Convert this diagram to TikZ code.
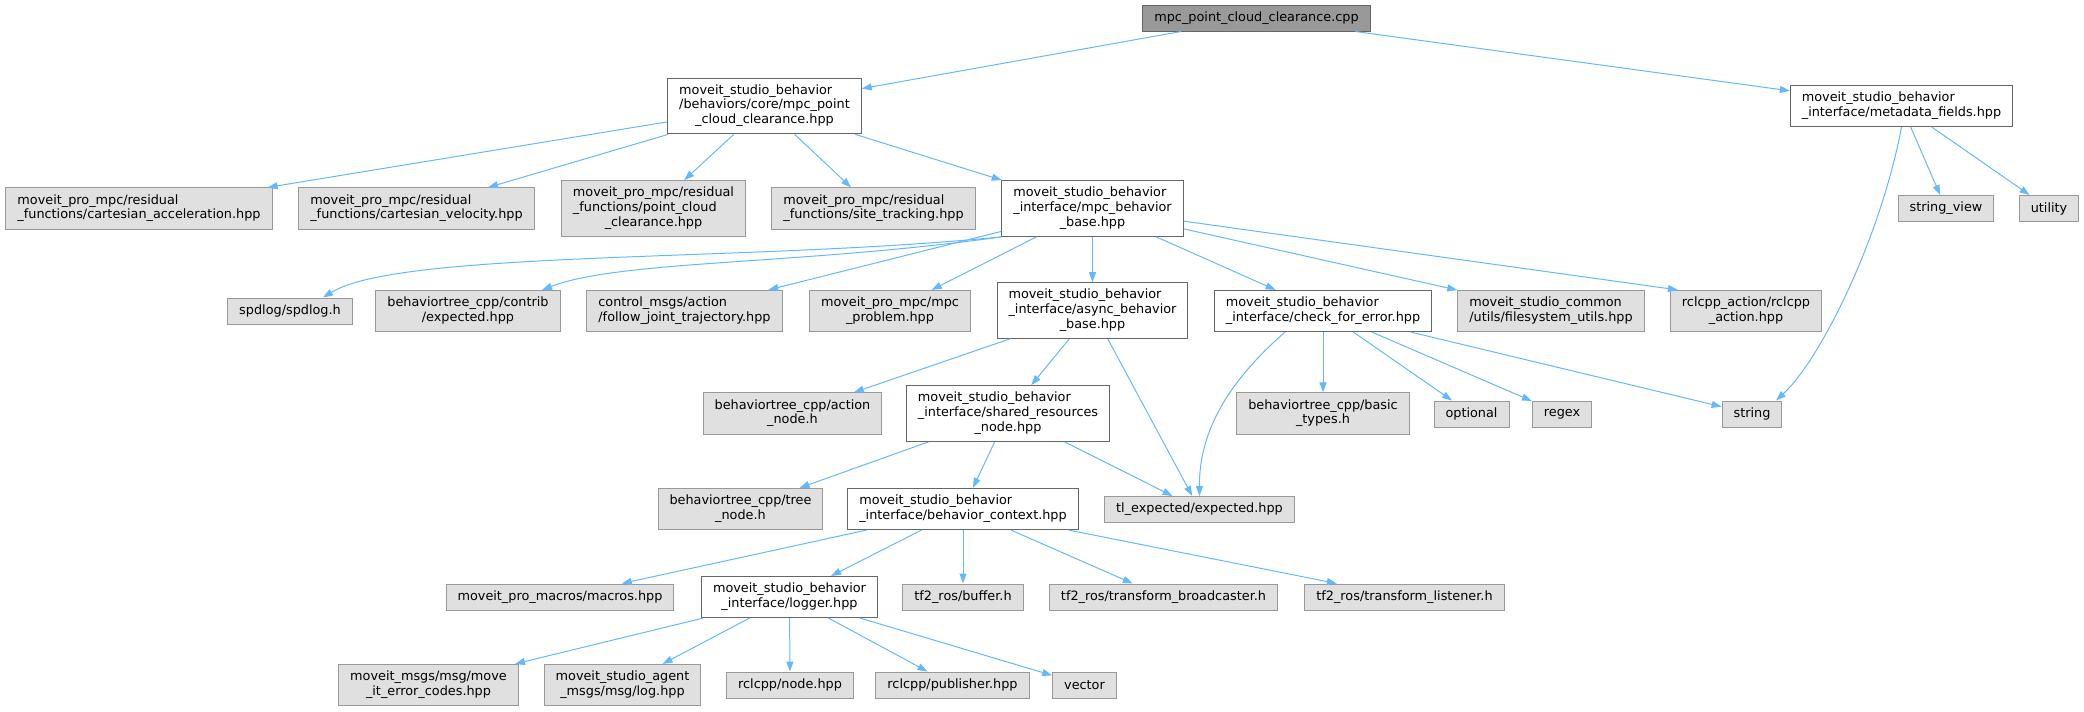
\documentclass[tikz,border=0pt]{standalone}
\usepackage{fontspec}
\setmainfont{DejaVu Sans}
\usepackage{tikz}
\usetikzlibrary{arrows.meta,calc}

\definecolor{edgeblue}{HTML}{63B8FF}
\definecolor{boxgray}{HTML}{E0E0E0}
\definecolor{rimgray}{HTML}{999999}
\definecolor{darkrim}{HTML}{666666}

% first lines left, last line centred
\newcommand{\flines}[2]{\begin{tabular}{@{}l@{}}#1\\\multicolumn{1}{@{}c@{}}{#2}\end{tabular}}

\tikzset{
  incbox/.style={draw=darkrim, fill=white, rectangle, line width=0.02cm,
    inner xsep=0.23cm, inner ysep=0.12cm, minimum height=0.52cm,
    font=\fontsize{7.3}{8.3}\selectfont},
  sysbox/.style={incbox, draw=rimgray, fill=boxgray},
  rootbox/.style={incbox, fill=rimgray},
  dep/.style={draw=edgeblue, line width=0.02cm, -{Triangle[length=0.2cm,width=0.14cm]}}
}

\begin{document}
\begin{tikzpicture}[x=0.02cm, y=-0.02cm]
  \useasboundingbox (0,0) rectangle (2084,711);

  % top file and its two headers
  \node[rootbox] (root) at (1256.5,18) {mpc\_point\_cloud\_clearance.cpp};
  \node[incbox] (hdr) at (764.5,106) {\flines{moveit\_studio\_behavior\\/behaviors/core/mpc\_point}{\_cloud\_clearance.hpp}};
  \node[incbox] (meta) at (1901.5,106) {\flines{moveit\_studio\_behavior}{\_interface/metadata\_fields.hpp}};

  % second row
  \node[sysbox] (cacc) at (139,208.5) {\flines{moveit\_pro\_mpc/residual}{\_functions/cartesian\_acceleration.hpp}};
  \node[sysbox] (cvel) at (416.5,208.5) {\flines{moveit\_pro\_mpc/residual}{\_functions/cartesian\_velocity.hpp}};
  \node[sysbox] (pcc) at (653.5,208.5) {\flines{moveit\_pro\_mpc/residual\\\_functions/point\_cloud}{\_clearance.hpp}};
  \node[sysbox] (site) at (873.5,208.5) {\flines{moveit\_pro\_mpc/residual}{\_functions/site\_tracking.hpp}};
  \node[incbox] (mpcbase) at (1092.5,208.5) {\flines{moveit\_studio\_behavior\\\_interface/mpc\_behavior}{\_base.hpp}};
  \node[sysbox] (strview) at (1946,208.5) {string\_view};
  \node[sysbox] (utility) at (2049,208.5) {utility};

  % third row
  \node[sysbox] (spdlog) at (290,311) {spdlog/spdlog.h};
  \node[sysbox] (contrib) at (468,311) {\flines{behaviortree\_cpp/contrib}{/expected.hpp}};
  \node[sysbox] (ctrl) at (684.5,311) {\flines{control\_msgs/action}{/follow\_joint\_trajectory.hpp}};
  \node[sysbox] (problem) at (890,311) {\flines{moveit\_pro\_mpc/mpc}{\_problem.hpp}};
  \node[incbox] (async) at (1092.5,310.5) {\flines{moveit\_studio\_behavior\\\_interface/async\_behavior}{\_base.hpp}};
  \node[incbox] (check) at (1323,311) {\flines{moveit\_studio\_behavior}{\_interface/check\_for\_error.hpp}};
  \node[sysbox] (fsutils) at (1551,311) {\flines{moveit\_studio\_common}{/utils/filesystem\_utils.hpp}};
  \node[sysbox] (rclact) at (1746,311) {\flines{rclcpp\_action/rclcpp}{\_action.hpp}};

  % fourth row
  \node[sysbox] (actnode) at (792.5,413.5) {\flines{behaviortree\_cpp/action}{\_node.h}};
  \node[incbox] (shared) at (1008,413.5) {\flines{moveit\_studio\_behavior\\\_interface/shared\_resources}{\_node.hpp}};
  \node[sysbox] (basic) at (1323,413.5) {\flines{behaviortree\_cpp/basic}{\_types.h}};
  \node[sysbox] (optional) at (1471.5,414) {optional};
  \node[sysbox] (regex) at (1562,414) {regex};
  \node[sysbox] (string) at (1752,414) {string};

  % fifth row
  \node[sysbox] (treenode) at (740.5,509) {\flines{behaviortree\_cpp/tree}{\_node.h}};
  \node[incbox] (context) at (963,509) {\flines{moveit\_studio\_behavior}{\_interface/behavior\_context.hpp}};
  \node[sysbox] (tlexp) at (1199.5,509.5) {tl\_expected/expected.hpp};

  % sixth row
  \node[sysbox] (macros) at (560,597) {moveit\_pro\_macros/macros.hpp};
  \node[incbox] (logger) at (789.5,597) {\flines{moveit\_studio\_behavior}{\_interface/logger.hpp}};
  \node[sysbox] (buffer) at (963,597) {tf2\_ros/buffer.h};
  \node[sysbox] (bcast) at (1163.5,597) {tf2\_ros/transform\_broadcaster.h};
  \node[sysbox] (listen) at (1404.5,597) {tf2\_ros/transform\_listener.h};

  % bottom row
  \node[sysbox] (errcodes) at (428.5,685) {\flines{moveit\_msgs/msg/move}{\_it\_error\_codes.hpp}};
  \node[sysbox] (agentlog) at (622.5,685) {\flines{moveit\_studio\_agent}{\_msgs/msg/log.hpp}};
  \node[sysbox] (rclnode) at (790,685) {rclcpp/node.hpp};
  \node[sysbox] (publisher) at (952.5,685) {rclcpp/publisher.hpp};
  \node[sysbox] (vector) at (1084.5,685) {vector};

  % straight includes
  \foreach \a/\b in {root/hdr, root/meta, hdr/cacc, hdr/cvel, hdr/pcc, hdr/site, hdr/mpcbase,
      meta/strview, meta/utility, mpcbase/ctrl, mpcbase/problem, mpcbase/async, mpcbase/check,
      mpcbase/fsutils, async/actnode, async/shared, async/tlexp,
      check/basic, check/optional, check/regex, check/string,
      shared/treenode, shared/context, shared/tlexp,
      context/macros, context/logger, context/buffer, context/bcast, context/listen,
      logger/errcodes, logger/agentlog, logger/rclnode, logger/publisher, logger/vector} {
    \draw[dep] (\a) -- (\b);
  }
  \draw[dep] (mpcbase) -- ($(rclact.north west)+(8,0)$);

  % curved includes
  \draw[dep] (mpcbase.south west) .. controls (750,262) and (400,250) .. ($(spdlog.north)+(33,0)$);
  \draw[dep] (mpcbase.south west) .. controls (800,265) and (620,260) .. ($(contrib.north)+(74,0)$);
  \draw[dep] ($(check.south)+(-38,0)$) .. controls (1230,380) and (1199,430) .. (tlexp.north);
  \draw[dep] (meta.south) .. controls (1880,240) and (1820,360) .. ($(string.north)+(24,0)$);
\end{tikzpicture}
\end{document}
